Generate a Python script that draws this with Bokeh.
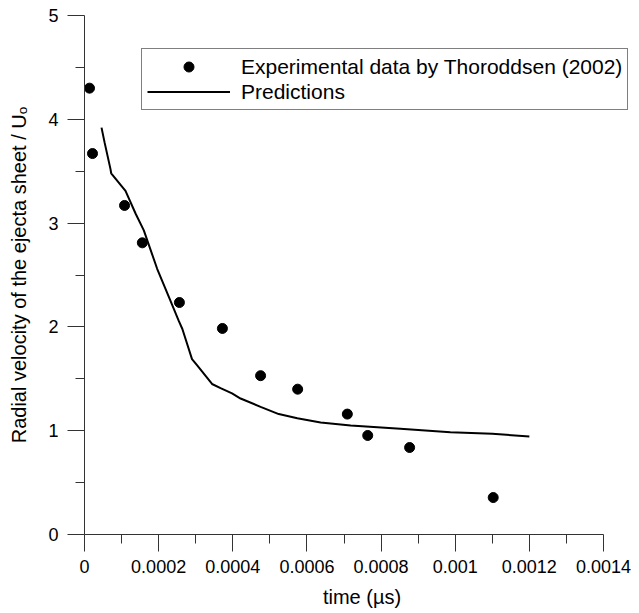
import numpy as np
from bokeh.plotting import figure
from bokeh.models import (ColumnDataSource, Range1d, FixedTicker, CustomJSTickFormatter,
                          Legend, LegendItem)
from bokeh.embed import file_html
from bokeh.resources import INLINE

# Experimental data (Thoroddsen 2002)
time_exp = [0.0000135, 0.0000216, 0.000108, 0.000156, 0.000256, 0.000372,
            0.000475, 0.000575, 0.000709, 0.000764, 0.000877, 0.0011025]
vel_exp = [4.30, 3.67, 3.17, 2.81, 2.235, 1.985, 1.53, 1.40, 1.16, 0.954, 0.838, 0.356]

# Predictions
time_pred = [0.0000459, 0.000054, 0.0000701, 0.000072, 0.0001106, 0.000138, 0.00016,
             0.000196, 0.000232, 0.000254, 0.000264, 0.00029, 0.000304, 0.000344,
             0.000367, 0.000398, 0.000421, 0.000475, 0.000524, 0.000574, 0.000637,
             0.000718, 0.000852, 0.000987, 0.0011, 0.0012]
vel_pred = [3.92, 3.78, 3.52, 3.48, 3.31, 3.09, 2.93, 2.56, 2.25, 2.06, 1.98, 1.69,
            1.63, 1.45, 1.41, 1.36, 1.31, 1.23, 1.16, 1.12, 1.08, 1.05, 1.018, 0.986,
            0.97, 0.944]

x_ticks = [0, 0.0002, 0.0004, 0.0006, 0.0008, 0.001, 0.0012, 0.0014]
x_minor = [0.0001, 0.0003, 0.0005, 0.0007, 0.0009, 0.0011, 0.0013]
y_ticks = [0, 1, 2, 3, 4, 5]
y_minor = [0.5, 1.5, 2.5, 3.5, 4.5]

FONT = "Liberation Sans"
AXC = "#333333"

# frame extends past the last tick so the legend box is not clipped
X_END = 0.0014 * 555.0 / 519.0

p = figure(width=639, height=613, output_backend="svg", toolbar_location=None,
           x_range=Range1d(0, X_END), y_range=Range1d(0, 5),
           min_border_left=84, min_border_right=0, min_border_top=15,
           min_border_bottom=79)
p.outline_line_color = None
p.xgrid.visible = False
p.ygrid.visible = False
p.background_fill_color = "white"
p.border_fill_color = "white"

src_exp = ColumnDataSource(dict(t=time_exp, v=vel_exp))
src_pred = ColumnDataSource(dict(t=time_pred, v=vel_pred))

line_r = p.line("t", "v", source=src_pred, line_color="black", line_width=2)
pts_r = p.scatter("t", "v", source=src_exp, size=10, fill_color="black",
                  line_color="black")

fmt = CustomJSTickFormatter(code="return parseFloat(tick.toPrecision(6)).toString();")

for ax in (p.xaxis[0], p.yaxis[0]):
    ax.axis_line_color = AXC
    ax.major_tick_line_color = AXC
    ax.minor_tick_line_color = AXC
    ax.major_tick_in = 0
    ax.minor_tick_in = 0
    ax.major_tick_out = 17
    ax.minor_tick_out = 9
    ax.major_label_text_font = FONT
    ax.major_label_text_font_size = "18px"
    ax.major_label_text_color = "black"
    ax.axis_label_text_font = FONT
    ax.axis_label_text_font_size = "20px"
    ax.axis_label_text_font_style = "normal"
    ax.axis_label_text_color = "black"

p.xaxis[0].ticker = FixedTicker(ticks=x_ticks, minor_ticks=x_minor)
p.xaxis[0].bounds = (0, 0.0014)
p.xaxis[0].formatter = fmt
p.xaxis[0].major_label_standoff = 8
p.xaxis[0].axis_label = "time (\u00b5s)"
p.xaxis[0].axis_label_standoff = 10

p.yaxis[0].ticker = FixedTicker(ticks=y_ticks, minor_ticks=y_minor)
p.yaxis[0].formatter = fmt
p.yaxis[0].major_label_standoff = 9
p.yaxis[0].axis_label = "Radial velocity of the ejecta sheet / U\u2092"
p.yaxis[0].axis_label_standoff = 15

legend = Legend(items=[
    LegendItem(label="Experimental data by Thoroddsen (2002)", renderers=[pts_r]),
    LegendItem(label="Predictions", renderers=[line_r]),
], location=(57, 424))
legend.label_text_font = FONT
legend.label_text_font_size = "21px"
legend.label_text_color = "black"
legend.glyph_width = 83
legend.glyph_height = 25
legend.label_height = 25
legend.label_standoff = 11
legend.spacing = 0
legend.padding = 5
legend.margin = 0
legend.border_line_color = "black"
legend.border_line_width = 1
legend.background_fill_color = "white"
legend.background_fill_alpha = 1
p.add_layout(legend)

open("out.html", "w").write(file_html(p, INLINE))
